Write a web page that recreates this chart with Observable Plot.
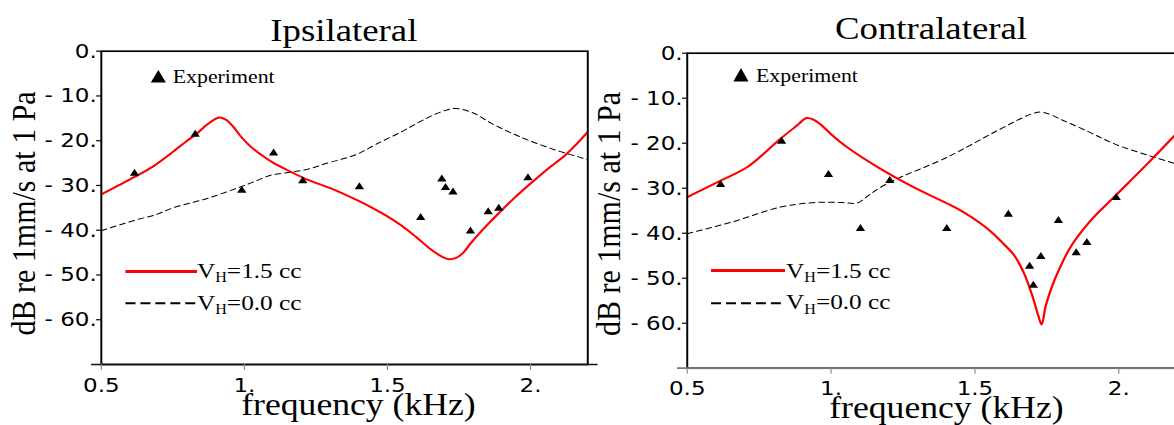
<!DOCTYPE html>
<html>
<head>
<meta charset="utf-8">
<script src="https://cdn.jsdelivr.net/npm/d3@7"></script>
<script src="https://cdn.jsdelivr.net/npm/@observablehq/plot@0.6"></script>
<style>
  html, body { margin: 0; padding: 0; background: #fff; overflow: hidden; width: 1174px; height: 425px; }
  #stage { position: absolute; left: 0; top: 0; width: 1021px; height: 425px; transform: scaleX(1.15); transform-origin: 0 0; }
  .panel { position: absolute; top: 0; }
  #overlay { position: absolute; left: 0; top: 0; overflow: visible; }
  #overlay text { font-family: "Liberation Serif", "Times New Roman", serif; fill: #000; }
</style>
</head>
<body>
<div id="stage">
  <div class="panel" id="left"></div>
  <div class="panel" id="right"></div>
  <svg id="overlay" width="1021" height="425">
    <!-- titles -->
    <text x="299" y="40.7" font-size="32" text-anchor="middle">Ipsilateral</text>
    <text x="809.6" y="39.5" font-size="32" text-anchor="middle">Contralateral</text>
    <!-- axis titles -->
    <text transform="translate(30.4,213.4) rotate(-90)" font-size="30" text-anchor="middle">dB re 1mm/s at 1 Pa</text>
    <text transform="translate(539.1,214) rotate(-90)" font-size="30" text-anchor="middle">dB re 1mm/s at 1 Pa</text>
    <text x="311.7" y="415" font-size="31" text-anchor="middle">frequency (kHz)</text>
    <text x="823" y="418.3" font-size="31" text-anchor="middle">frequency (kHz)</text>
    <!-- legend, left panel -->
    <path d="M137.7,70 L144.3,82.5 L131.1,82.5 Z" fill="#000"/>
    <text x="150.2" y="83.3" font-size="19">Experiment</text>
    <line x1="109.1" x2="171.3" y1="271.5" y2="271.5" stroke="red" stroke-width="3"/>
    <text x="171.3" y="278" font-size="22">V<tspan font-size="14" dy="4.5">H</tspan><tspan dy="-4.5">=1.5 cc</tspan></text>
    <line x1="109.1" x2="171.3" y1="303.3" y2="303.3" stroke="#000" stroke-width="2" stroke-dasharray="8.7,4.3"/>
    <text x="171.3" y="310" font-size="22">V<tspan font-size="14" dy="4.5">H</tspan><tspan dy="-4.5">=0.0 cc</tspan></text>
    <!-- legend, right panel -->
    <path d="M644.3,68 L650.9,81.5 L637.7,81.5 Z" fill="#000"/>
    <text x="657.4" y="81.7" font-size="19">Experiment</text>
    <line x1="618.3" x2="682.6" y1="270.5" y2="270.5" stroke="red" stroke-width="3"/>
    <text x="683.5" y="277.7" font-size="22">V<tspan font-size="14" dy="4.5">H</tspan><tspan dy="-4.5">=1.5 cc</tspan></text>
    <line x1="618.3" x2="682.6" y1="303.3" y2="303.3" stroke="#000" stroke-width="2" stroke-dasharray="8.7,4.3"/>
    <text x="683.5" y="309.5" font-size="22">V<tspan font-size="14" dy="4.5">H</tspan><tspan dy="-4.5">=0.0 cc</tspan></text>
  </svg>
</div>
<script>
// ---- ticks ----
const xTicks = [0.5, 1, 1.5, 2];
const xTickLabels = ["0.5", "1.", "1.5", "2."];
const yTicks = [0, -10, -20, -30, -40, -50, -60];
const yTickLabels = ["0.", "- 10.", "- 20.", "- 30.", "- 40.", "- 50.", "- 60."];

// ---- experiment (triangles) ----
const expFreq   = [0.616, 0.828, 0.991, 1.102, 1.204, 1.402, 1.616, 1.690, 1.703, 1.729, 1.790, 1.852, 1.889, 1.991];
const ipsiExp   = [-27.3, -18.6, -31.1, -22.8, -29.0, -30.3, -37.2, -28.6, -30.5, -31.5, -40.2, -35.9, -35.1, -28.3];
const contraExp = [-29.2, -19.6, -27.0, -39.0, -28.3, -39.0, -35.8, -47.4, -51.6, -45.2, -37.2, -44.4, -42.1, -32.1];

// ---- Ipsilateral model curves ----
const ipsiFullFreq = [0.5, 0.56, 0.616, 0.68, 0.74, 0.80, 0.83, 0.87, 0.911, 0.935, 0.96, 0.987, 1.02, 1.06, 1.10, 1.164, 1.22, 1.30, 1.394, 1.45, 1.50, 1.55, 1.60, 1.65, 1.69, 1.715, 1.74, 1.765, 1.79, 1.852, 1.889, 1.94, 1.994, 2.06, 2.122, 2.16, 2.2];
const ipsiFull     = [-32.0, -30.0, -28.1, -25.8, -23.0, -20.0, -18.6, -16.4, -14.8, -15.3, -16.8, -19.0, -21.2, -23.2, -24.9, -27.0, -28.7, -30.6, -33.3, -35.1, -36.9, -39.0, -41.5, -44.2, -45.9, -46.5, -46.2, -45.0, -43.0, -38.6, -36.2, -33.0, -29.9, -26.3, -23.2, -20.8, -18.0];
const ipsiEmptyFreq = [0.5, 0.616, 0.696, 0.75, 0.87, 0.987, 1.04, 1.092, 1.164, 1.22, 1.285, 1.394, 1.46, 1.552, 1.627, 1.69, 1.738, 1.80, 1.86, 1.93, 1.993, 2.093, 2.2];
const ipsiEmpty     = [-40.1, -37.8, -36.4, -35.0, -32.9, -30.3, -29.0, -27.7, -27.0, -26.4, -25.1, -23.0, -20.8, -17.9, -15.3, -13.5, -12.8, -13.8, -16.0, -18.2, -19.9, -22.2, -24.2];

// ---- Contralateral model curves ----
const contraFullFreq = [0.5, 0.616, 0.709, 0.824, 0.879, 0.915, 0.94, 0.963, 1.0, 1.056, 1.172, 1.288, 1.404, 1.46, 1.519, 1.56, 1.60, 1.635, 1.67, 1.70, 1.72, 1.732, 1.745, 1.763, 1.786, 1.832, 1.902, 1.983, 2.099, 2.2];
const contraFull     = [-32.0, -28.3, -25.3, -19.0, -16.2, -14.4, -14.8, -15.8, -18.0, -20.9, -25.7, -29.8, -33.4, -35.3, -37.8, -39.9, -42.4, -44.8, -48.8, -54.0, -58.3, -60.3, -56.4, -52.7, -49.0, -43.1, -37.2, -32.0, -24.6, -17.9];
const contraEmptyFreq = [0.5, 0.651, 0.824, 0.92, 0.987, 1.04, 1.091, 1.13, 1.172, 1.23, 1.404, 1.578, 1.693, 1.734, 1.809, 1.90, 1.983, 2.122, 2.2];
const contraEmpty     = [-40.1, -37.6, -34.2, -33.3, -33.1, -33.2, -33.3, -31.6, -29.8, -27.9, -23.1, -17.2, -13.6, -13.1, -15.0, -17.6, -20.1, -23.1, -24.6];

function rows(fs, vs) { return fs.map((f, i) => ({f, v: vs[i]})); }

function makePanel(cfg) {
  return Plot.plot({
    width: cfg.width,
    height: cfg.height,
    marginLeft: cfg.ml,
    marginRight: cfg.width - cfg.ml - cfg.fw,
    marginTop: cfg.mt,
    marginBottom: cfg.height - cfg.fb,
    style: {fontFamily: "'DejaVu Sans', sans-serif", fontSize: "20px", color: "black", background: "transparent", overflow: "visible", maxWidth: "none"},
    x: {domain: [0.5, 2.2], label: null},
    y: {domain: [-70, 0], label: null},
    marks: [
      Plot.line(rows(cfg.emptyFreq, cfg.empty), {x: "f", y: "v", stroke: "black", strokeWidth: 1, strokeDasharray: "5,3.5", curve: "catmull-rom", clip: true}),
      Plot.line(rows(cfg.fullFreq, cfg.full), {x: "f", y: "v", stroke: "red", strokeWidth: 2, curve: "catmull-rom", clip: true}),
      Plot.dot(rows(expFreq, cfg.exp), {x: "f", y: "v", symbol: "triangle", r: 3, fill: "black"}),
      Plot.frame({stroke: "black", strokeWidth: 1.7}),
      Plot.ruleY([-70], {stroke: cfg.extColor, strokeWidth: 1.7, insetLeft: -8.4, insetRight: -9}),
      Plot.axisX({ticks: xTicks, tickFormat: d => xTickLabels[xTicks.indexOf(d)], tickSize: 6, tickPadding: 6.8, stroke: "#888", fontSize: 20, fontFamily: "DejaVu Sans", label: null}),
      Plot.axisY({ticks: yTicks, tickFormat: d => yTickLabels[yTicks.indexOf(d)], tickSize: 4, tickPadding: 0, strokeWidth: 1.2, fontSize: 20, fontFamily: "DejaVu Sans", label: null})
    ]
  });
}

const left = makePanel({
  width: 520, height: 400, ml: 87.6, fw: 423, mt: 50.7, fb: 364,
  fullFreq: ipsiFullFreq, full: ipsiFull, emptyFreq: ipsiEmptyFreq, empty: ipsiEmpty,
  exp: ipsiExp, extColor: "#111"
});
const right = makePanel({
  width: 515, height: 404, ml: 77.1, fw: 425.3, mt: 52.7, fb: 367.7,
  fullFreq: contraFullFreq, full: contraFull, emptyFreq: contraEmptyFreq, empty: contraEmpty,
  exp: contraExp, extColor: "#777"
});
const lDiv = document.getElementById("left");
lDiv.style.left = "0px";
lDiv.appendChild(left);
const rDiv = document.getElementById("right");
rDiv.style.left = "520px";
rDiv.appendChild(right);
</script>
</body>
</html>
